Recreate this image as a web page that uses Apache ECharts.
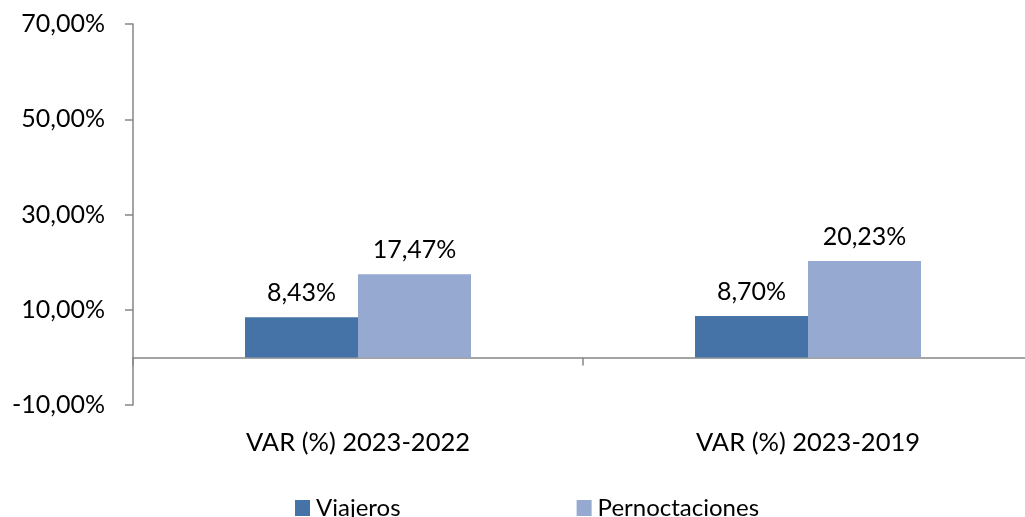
<!DOCTYPE html>
<html>
<head>
<meta charset="utf-8">
<script src="https://cdn.jsdelivr.net/npm/echarts@6/dist/echarts.min.js"></script>
<style>
  html, body { margin: 0; padding: 0; background: #fff; }
  #chart { width: 1025px; height: 517px; }
</style>
</head>
<body>
<div id="chart"></div>
<script>
// datos
var categorias = ['VAR (%) 2023-2022', 'VAR (%) 2023-2019'];
var viajeros = [8.43, 8.70];
var pernoctaciones = [17.47, 20.23];
var ejeMin = -10, ejeMax = 70, ejeIntervalo = 20;

var fuente = 'Lato';
function pct(v) {
  return v.toFixed(2).replace('.', ',') + '%';
}

var chart = echarts.init(document.getElementById('chart'));
var etiqueta = {
  show: true,
  position: 'top',
  distance: 12,
  color: '#000',
  fontFamily: fuente,
  fontSize: 25,
  formatter: function (p) { return pct(p.value); }
};

chart.setOption({
  animation: false,
  // el eje x sigue mas alla del borde derecho, como en el original
  grid: { left: 133, width: 900, top: 24, height: 381, outerBoundsMode: 'none' },
  legend: {
    top: 491,
    left: 290,
    itemWidth: 15,
    itemHeight: 16,
    itemGap: 176,
    icon: 'rect',
    textStyle: { fontFamily: fuente, fontSize: 24, color: '#000', padding: [0, 0, 0, 1] },
    data: ['Viajeros', 'Pernoctaciones']
  },
  xAxis: [
    {
      type: 'category',
      data: categorias,
      axisLine: { onZero: true, lineStyle: { color: '#868686', width: 1.5 } },
      axisTick: { show: true, length: 8, lineStyle: { color: '#868686', width: 1.5 } },
      axisLabel: { show: false },
      splitLine: { show: false }
    },
    {
      type: 'category',
      data: categorias,
      position: 'bottom',
      axisLine: { show: false, onZero: false },
      axisTick: { show: false },
      axisLabel: { margin: 25, color: '#000', fontFamily: fuente, fontSize: 25.5 },
      splitLine: { show: false }
    }
  ],
  yAxis: {
    type: 'value',
    min: ejeMin,
    max: ejeMax,
    interval: ejeIntervalo,
    axisLine: { show: true, lineStyle: { color: '#868686', width: 1.5 } },
    axisTick: { show: true, length: 8, lineStyle: { color: '#868686', width: 1.5 } },
    axisLabel: { margin: 28, color: '#000', fontFamily: fuente, fontSize: 25, formatter: pct },
    splitLine: { show: false }
  },
  series: [
    {
      name: 'Viajeros',
      type: 'bar',
      barWidth: 113,
      barGap: '0%',
      itemStyle: { color: '#4573a7' },
      label: etiqueta,
      data: viajeros
    },
    {
      name: 'Pernoctaciones',
      type: 'bar',
      barWidth: 113,
      itemStyle: { color: '#95a9d1' },
      label: etiqueta,
      data: pernoctaciones
    }
  ]
});
</script>
</body>
</html>
